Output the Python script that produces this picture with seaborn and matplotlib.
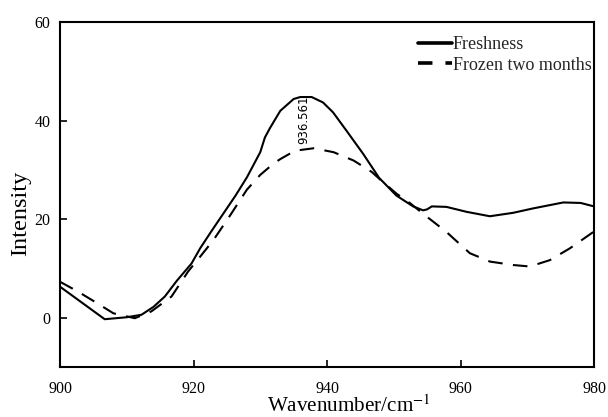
import matplotlib
matplotlib.use("Agg")
import matplotlib.pyplot as plt
from matplotlib.lines import Line2D
import seaborn as sns
import pandas as pd

fresh_x = [900, 906.7, 910, 912.2, 914, 915.7, 917.5, 919.7, 921, 922.7, 924.5, 926.3, 928, 930,
           930.7, 931.5, 933, 935, 936, 937.7, 939.4, 940.9, 942.9, 945.4, 947.8, 950.4, 952.9,
           954.4, 955, 955.7, 957.9, 960.9, 964.4, 967.9, 970.9, 975.4, 978, 980]
fresh_y = [6.3, -0.3, 0.1, 0.6, 2.2, 4.3, 7.5, 11.0, 14.1, 17.6, 21.2, 24.8, 28.5, 33.6,
           36.6, 38.6, 42.0, 44.4, 44.8, 44.8, 43.7, 41.7, 38.0, 33.3, 28.4, 24.8, 22.6,
           21.8, 22.0, 22.6, 22.5, 21.5, 20.6, 21.3, 22.2, 23.4, 23.3, 22.6]

frozen_x = [900, 902.7, 905.5, 908, 911.2, 913.7, 916.7, 919.2, 921, 923, 925.5, 928, 930, 932,
            933, 935.2, 938, 941, 944, 946.7, 948, 950.4, 952.5, 954.4, 957.9, 961.4, 964.4,
            967.9, 970.4, 973.4, 976.4, 980]
frozen_y = [7.3, 5.3, 3.0, 0.9, -0.1, 1.3, 4.3, 9.4, 12.4, 15.8, 20.8, 26.0, 29.0, 31.3,
            32.2, 33.9, 34.4, 33.6, 31.9, 29.6, 28.0, 25.2, 23.2, 21.1, 17.4, 13.1, 11.4,
            10.7, 10.4, 11.7, 14.1, 17.5]

series_names = ["Freshness", "Frozen two months"]
x_ticks = [900, 920, 940, 960, 980]
y_ticks = [0, 20, 40, 60]
peak_label = "936.561"
peak_x = 936.56

df = pd.concat([
    pd.DataFrame({"x": fresh_x, "y": fresh_y, "s": series_names[0]}),
    pd.DataFrame({"x": frozen_x, "y": frozen_y, "s": series_names[1]}),
])

sns.set_theme(style="white")
plt.rcParams["font.family"] = ["Liberation Serif", "DejaVu Serif"]
plt.rcParams["mathtext.fontset"] = "stix"

fig = plt.figure(figsize=(6.08, 4.17), dpi=100)
ax = fig.add_axes([60 / 608, 0.1199, 534 / 608, 0.827])

sns.lineplot(data=df, x="x", y="y", style="s",
             dashes={series_names[0]: "", series_names[1]: (7, 5)},
             color="black", linewidth=1.5, ax=ax, sort=False, estimator=None, legend=False)

ax.set_xlim(900, 980)
ax.set_ylim(-10, 60)
ax.set_xticks(x_ticks)
ax.set_yticks(y_ticks)
ax.tick_params(direction="in", length=5, width=1.2, labelsize=11.5, colors="black",
               bottom=True, left=True, top=False, right=False)
ax.tick_params(axis="x", pad=10)
ax.tick_params(axis="y", pad=7)
for sp in ax.spines.values():
    sp.set_color("black")
    sp.set_linewidth(1.5)

ax.set_xlabel("Wavenumber/cm$^{-1}$", fontsize=15.2, color="black")
ax.xaxis.set_label_coords(0.541, -0.082)
ax.set_ylabel("Intensity", fontsize=17.5, color="black")
ax.yaxis.set_label_coords(-0.054, 0.446)

ax.text(peak_x, 35.3, peak_label, rotation=90, ha="center", va="bottom", fontsize=8.5,
        family="DejaVu Sans", color="black")

handles = [
    Line2D([], [], color="black", linewidth=2.6),
    Line2D([], [], color="black", linewidth=2.6, linestyle=(0, (4.0, 3.6)), dash_capstyle="butt"),
]
ax.legend(handles=handles, labels=series_names, frameon=False, loc="upper right", fontsize=13,
          handlelength=1.85, handletextpad=0.05, borderpad=0, borderaxespad=0,
          labelspacing=0.2, bbox_to_anchor=(0.995, 0.96))

fig.savefig("out.png", dpi=100)
